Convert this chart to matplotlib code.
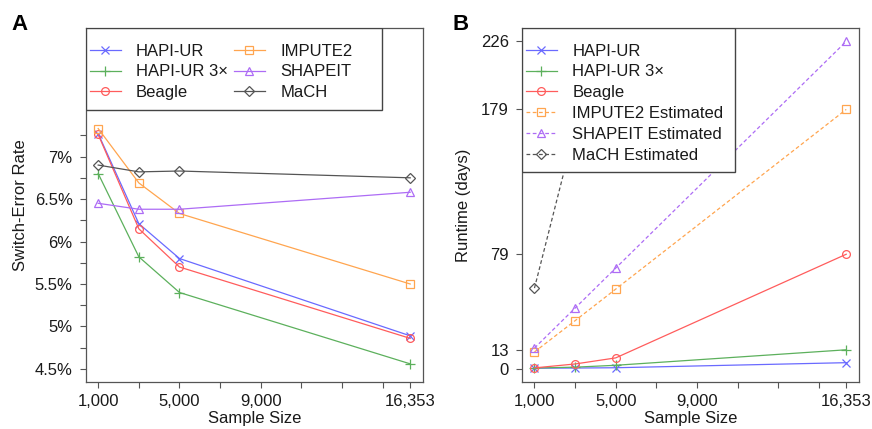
import numpy as np
import matplotlib
matplotlib.use("Agg")
import matplotlib.pyplot as plt
from matplotlib.patches import Rectangle

plt.rcParams['font.family'] = ['Liberation Sans', 'DejaVu Sans']

# sample sizes
sizes = [1000, 3000, 5000, 16353]

# panel A: switch-error rate (%)
ser_hapiur = [7.27, 6.21, 5.80, 4.89]
ser_hapiur3 = [6.80, 5.82, 5.40, 4.56]
ser_beagle = [7.26, 6.15, 5.70, 4.86]
ser_impute2 = [7.33, 6.69, 6.33, 5.50]
ser_shapeit = [6.45, 6.38, 6.38, 6.58]
ser_mach = [6.90, 6.82, 6.83, 6.75]

# panel B: runtime (days)
rt_hapiur = [0.3, 0.4, 0.6, 4.1]
rt_hapiur3 = [0.4, 1.0, 2.3, 13]
rt_beagle = [0.5, 3.2, 7.4, 79]
rt_impute2 = [11.5, 33.1, 54.9, 179]
rt_shapeit = [14.2, 41.8, 69.4, 226]
rt_mach = [55.6, 166, 278, 909]

xticks = [1000, 3000, 5000, 7000, 9000, 11000, 13000, 15000, 16353]
xlabels = ['1,000', '', '5,000', '', '9,000', '', '', '', '16,353']
ticks_a = [4.5, 4.75, 5, 5.25, 5.5, 5.75, 6, 6.25, 6.5, 6.75, 7, 7.25]
labels_a = ['4.5%', '', '5%', '', '5.5%', '', '6%', '', '6.5%', '', '7%', '']
ticks_b = [0, 13, 79, 179, 226]

c_blue = '#6a6aff'
c_green = '#5cb05c'
c_red = '#ff5c5c'
c_orange = '#ffa54f'
c_purple = '#ad6cf5'
c_gray = '#555555'
frame = '#555555'
txt = '#1a1a1a'

W, H = 872, 429
fig = plt.figure(figsize=(W / 100, H / 100), dpi=100)
ax1 = fig.add_axes([85.7 / W, 1 - 381.7 / H, 337 / W, 353.4 / H])
ax2 = fig.add_axes([522 / W, 1 - 381.7 / H, 336.7 / W, 353.4 / H])

mk = dict(markersize=5.6, markerfacecolor='none', markeredgewidth=0.9)
mk_plus = dict(markersize=6.5, markeredgewidth=0.9)
mk_d = dict(markersize=4.6, markerfacecolor='none', markeredgewidth=0.9)
lw = 0.9
dash = (0, (3, 2))


def legend_box(ax, w_px, h_px, ncol):
    # white box flush with the upper-left axes corner, legend drawn on top without its own frame
    ax_w, ax_h = 337.0, 353.4
    ax.add_patch(Rectangle((0, 1 - h_px / ax_h), w_px / ax_w, h_px / ax_h,
                           transform=ax.transAxes, facecolor='white', edgecolor='#444444',
                           lw=1.0, zorder=5))
    leg = ax.legend(loc='upper left', bbox_to_anchor=(4 / ax_w, 1 - 15.3 / ax_h), ncol=ncol,
                    fontsize=12, frameon=False, borderpad=0, borderaxespad=0,
                    handlelength=1.86, handletextpad=0.92, columnspacing=0.35,
                    labelspacing=0.35)
    leg.set_zorder(6)
    for t in leg.get_texts():
        t.set_color(txt)


# --- Panel A ---
ax1.plot(sizes, ser_hapiur, color=c_blue, marker='x', lw=lw, label='HAPI-UR', **mk)
ax1.plot(sizes, ser_hapiur3, color=c_green, marker='+', lw=lw, label='HAPI-UR 3\u00d7', **mk_plus)
ax1.plot(sizes, ser_beagle, color=c_red, marker='o', lw=lw, label='Beagle', **mk)
ax1.plot(sizes, ser_impute2, color=c_orange, marker='s', lw=lw, label='IMPUTE2', **mk)
ax1.plot(sizes, ser_shapeit, color=c_purple, marker='^', lw=lw, label='SHAPEIT', **mk)
ax1.plot(sizes, ser_mach, color=c_gray, marker='D', lw=lw, label='MaCH', **mk_d)
ax1.set_ylim(4.35, 8.51)
ax1.set_yticks(ticks_a)
ax1.set_yticklabels(labels_a)
ax1.set_ylabel('Switch-Error Rate', fontsize=12, color=txt)
ax1.yaxis.set_label_coords(-0.172, 0.5)
legend_box(ax1, 296, 81.7, 2)

# --- Panel B ---
ax2.plot(sizes, rt_hapiur, color=c_blue, marker='x', lw=lw, label='HAPI-UR', **mk)
ax2.plot(sizes, rt_hapiur3, color=c_green, marker='+', lw=lw, label='HAPI-UR 3\u00d7', **mk_plus)
ax2.plot(sizes, rt_beagle, color=c_red, marker='o', lw=lw, label='Beagle', **mk)
ax2.plot(sizes, rt_impute2, color=c_orange, marker='s', lw=lw, ls=dash, label='IMPUTE2 Estimated', **mk)
ax2.plot(sizes, rt_shapeit, color=c_purple, marker='^', lw=lw, ls=dash, label='SHAPEIT Estimated', **mk)
ax2.plot(sizes, rt_mach, color=c_gray, marker='D', lw=lw, ls=dash, label='MaCH Estimated', **mk_d)
ax2.set_ylim(-9.04, 235.04)
ax2.set_yticks(ticks_b)
ax2.set_ylabel('Runtime (days)', fontsize=12, color=txt)
ax2.yaxis.set_label_coords(-0.152, 0.5)
legend_box(ax2, 213, 143.4, 1)

for ax in (ax1, ax2):
    ax.set_xlim(386, 16967)
    ax.set_xticks(xticks)
    ax.set_xticklabels(xlabels)
    ax.set_xlabel('Sample Size', fontsize=12, labelpad=2, color=txt)
    ax.tick_params(labelsize=12, length=4.5, width=0.8, color=frame, labelcolor=txt,
                   direction='out')
    ax.tick_params(axis='y', pad=5)
    ax.tick_params(axis='x', pad=4)
    for s in ax.spines.values():
        s.set_color(frame)
        s.set_linewidth(0.9)

fig.text(11 / W, 1 - 29.5 / H, 'A', fontsize=16, fontweight='bold')
fig.text(452 / W, 1 - 29.5 / H, 'B', fontsize=16, fontweight='bold')

fig.savefig('out.png', dpi=100)
